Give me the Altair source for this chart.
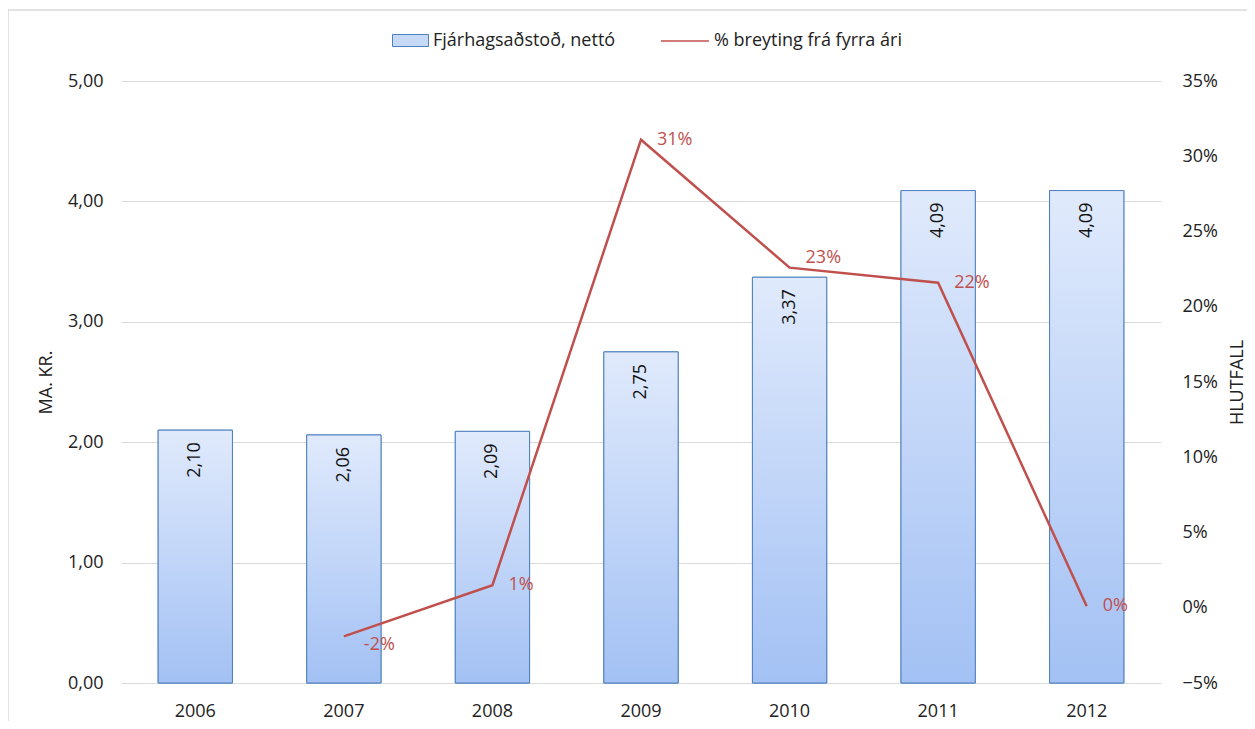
import altair as alt
import pandas as pd

years = ["2006", "2007", "2008", "2009", "2010", "2011", "2012"]
amount = [2.10, 2.06, 2.09, 2.75, 3.37, 4.09, 4.09]
pct = [None, -0.019, 0.015, 0.311, 0.226, 0.216, 0.001]
pct_labels = ["", "-2%", "1%", "31%", "23%", "22%", "0%"]

BAR_NAME = "Fjárhagsaðstoð, nettó"
LINE_NAME = "% breyting frá fyrra ári"

df = pd.DataFrame({"year": years, "amount": amount, "pct": pct, "plabel": pct_labels})

FONT = "Open Sans"
RED = "#c0504d"
TXT = "#222222"
FS = 18

x = alt.X("year:N", title=None, sort=years,
          scale=alt.Scale(paddingInner=0.5, paddingOuter=0.25),
          axis=alt.Axis(labelAngle=0, ticks=False, domain=False, labelPadding=19,
                        labelFontSize=FS, labelColor=TXT))

y_left = alt.Y("amount:Q",
               scale=alt.Scale(domain=[0, 5], nice=False),
               axis=alt.Axis(title="MA. KR.", values=[0, 1, 2, 3, 4, 5],
                             labelExpr="replace(format(datum.value, '.2f'), '.', ',')",
                             ticks=False, domain=False, labelPadding=18,
                             titlePadding=12, gridColor="#d9d9d9",
                             labelFontSize=FS, labelColor=TXT,
                             titleFontSize=FS, titleFontWeight="normal", titleColor=TXT))

y_right = alt.Y("pct:Q", scale=alt.Scale(domain=[-0.05, 0.35], nice=False),
                axis=alt.Axis(title="HLUTFALL", orient="right", format=".0%",
                              values=[-0.05, 0, 0.05, 0.1, 0.15, 0.2, 0.25, 0.3, 0.35],
                              grid=False, ticks=False, domain=False, labelPadding=21,
                              titleAngle=270, titleBaseline="top", titlePadding=11,
                              labelFontSize=FS, labelColor=TXT,
                              titleFontSize=FS, titleFontWeight="normal", titleColor=TXT))

base = alt.Chart(df)

frame = alt.Chart(pd.DataFrame({"k": [0]})).mark_rect(
    fill=None, stroke="#d9d9d9", strokeWidth=1.5
).encode(x=alt.value(-113), x2=alt.value(1140), y=alt.value(-71), y2=alt.value(700))

bar_legend = base.mark_bar(stroke="#4f81bd", strokeWidth=1).encode(
    x=x, y=y_left,
    fill=alt.Fill("name:N", scale=alt.Scale(domain=[BAR_NAME], range=["#c6d9f7"]),
                  legend=alt.Legend(title=None, orient="none", legendX=277, legendY=-53,
                                    symbolType="M-1.5,-0.5H1.5V0.5H-1.5Z", symbolSize=576,
                                    symbolStrokeColor="#4f81bd", symbolStrokeWidth=1,
                                    labelFontSize=FS, labelFont=FONT, labelColor=TXT,
                                    labelLimit=0, padding=0, labelOffset=10)),
).transform_calculate(name=f"'{BAR_NAME}'")

bar_grad = base.mark_bar(
    stroke="#4f81bd", strokeWidth=1,
    color=alt.LinearGradient(
        gradient="linear", x1=0, y1=0, x2=0, y2=1,
        stops=[alt.GradientStop(color="#e0eafc", offset=0),
               alt.GradientStop(color="#a3c1f4", offset=1)]),
).encode(x=x, y=y_left)

bar_text = base.mark_text(angle=270, align="right", baseline="middle", dx=-12,
                          fontSize=FS, font=FONT, color="#111111").encode(
    x=x, y=y_left,
    text=alt.Text("amount_lbl:N"),
).transform_calculate(amount_lbl="replace(format(datum.amount, '.2f'), '.', ',')")

line = base.mark_line(strokeWidth=2.5).encode(
    x=x, y=y_right,
    stroke=alt.Stroke("name:N", scale=alt.Scale(domain=[LINE_NAME], range=[RED]),
                      legend=alt.Legend(title=None, orient="none", legendX=539, legendY=-65,
                                        symbolType="stroke", symbolSize=2304,
                                        symbolStrokeWidth=1.5,
                                        labelFontSize=FS, labelFont=FONT, labelColor=TXT,
                                        labelLimit=0, padding=0, labelOffset=4)),
).transform_filter("isValid(datum.pct)").transform_calculate(name=f"'{LINE_NAME}'")

lab_main = base.mark_text(align="left", baseline="middle", dx=16, fontSize=FS,
                          font=FONT, color=RED).encode(
    x=x, y=y_right, text="plabel:N"
).transform_filter("isValid(datum.pct) && datum.year != '2007' && datum.year != '2010'")

lab_low = base.mark_text(align="left", baseline="middle", dx=20, dy=9, fontSize=FS,
                         font=FONT, color=RED).encode(
    x=x, y=y_right, text="plabel:N"
).transform_filter("datum.year == '2007'")

lab_high = base.mark_text(align="left", baseline="middle", dx=16, dy=-10, fontSize=FS,
                          font=FONT, color=RED).encode(
    x=x, y=y_right, text="plabel:N"
).transform_filter("datum.year == '2010'")

left = alt.layer(bar_legend, bar_grad, bar_text)
right = alt.layer(line, lab_main, lab_low, lab_high)

chart = alt.layer(left, right, frame).resolve_scale(y="independent").properties(
    width=1040, height=602,
    autosize=alt.AutoSizeParams(type="none"),
    padding={"left": 113, "top": 73, "right": 86, "bottom": 38},
).configure_view(stroke=None).configure_axis(labelFont=FONT, titleFont=FONT)

chart.save("out.html", embed_options={"renderer": "svg", "actions": False})
